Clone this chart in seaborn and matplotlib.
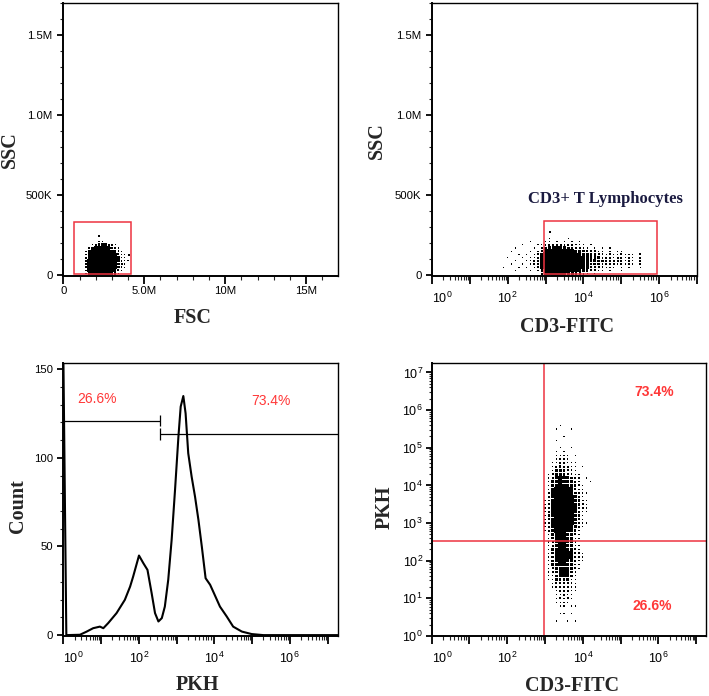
import numpy as np
import pandas as pd
import seaborn as sns
import matplotlib.pyplot as plt
from matplotlib.patches import Rectangle
from matplotlib.ticker import MultipleLocator, LogLocator, NullFormatter

sns.set_style("white")
plt.rcParams['font.family'] = ['Liberation Sans', 'DejaVu Sans']
plt.rcParams['mathtext.fontset'] = 'custom'
plt.rcParams['mathtext.rm'] = 'Liberation Sans'
plt.rcParams['axes.edgecolor'] = 'black'

RED = '#ee3340'
PCT_RED = '#ff3838'
SERIF = ['Liberation Serif', 'DejaVu Serif']

# ---------------- data ----------------
# density grids: digit = how dark the dot cloud is in that cell (0..9), rows top -> bottom

# panel 1: FSC (M) x SSC (K), cells 0.2M x 20K
fsc_x0, fsc_dx = 1.4e6, 0.2e6
ssc1_top, ssc1_dy = 230e3, 20e3
fsc_ssc_rows = [
    "00000 00000 0000",
    "00001 10000 0000",
    "00135 65321 0000",
    "02699 99863 1000",
    "15999 99985 2100",
    "27999 99986 3110",
    "38999 99986 4210",
    "39999 99987 5211",
    "39999 99987 5310",
    "39999 99986 4210",
    "29999 99985 3100",
    "18999 99974 2000",
]
p1_out_fsc = [2.2e6, 4.05e6]
p1_out_ssc = [245e3, 127e3]
fsc_gate = (0.66e6, 4.2e6)
ssc_gate1 = (5e3, 330e3)

# panel 2: CD3-FITC (log decades) x SSC, cells 0.1 decade x 20K
cd3_x0, cd3_dx = 1.8, 0.1
ssc2_top, ssc2_dy = 250e3, 20e3
cd3_ssc_rows = [
    "00000 00000 00000 00000 00000 00000 00000 0000",
    "00000 00000 00010 00010 00000 00000 00000 0000",
    "00000 00010 00110 10101 01000 00000 00000 0000",
    "00000 01000 11223 32222 11101 00000 00000 0000",
    "00001 00001 02455 66543 32210 10101 00000 0000",
    "00010 00010 13789 99876 54332 21101 01100 0000",
    "00000 10101 24999 99998 76543 32212 11211 1020",
    "00100 01011 25999 99999 87654 33222 12212 1020",
    "00001 00112 36999 99999 98764 43322 22212 1020",
    "00010 01012 36999 99999 98764 43222 21211 1020",
    "01000 10101 25999 99999 87653 32211 10101 0010",
    "00001 00010 13899 99998 65432 21101 00100 0000",
    "00000 00000 02579 99865 43210 10000 00000 0000",
]
p2_out_dec = [3.11]
p2_out_ssc = [272e3]
cd3_gate = (2.97, 5.93)
ssc_gate2 = (8e3, 339e3)
lymph_label_pos = (4.585, 474e3)

# panel 3: PKH histogram (log decade, count)
pkh_dec = [0.00, 0.08, 0.44, 0.62, 0.79, 0.97, 1.06, 1.19, 1.41, 1.63, 1.77, 1.85,
           2.005, 2.12, 2.23, 2.34, 2.43, 2.52, 2.61, 2.69, 2.78, 2.87, 2.96, 3.05,
           3.11, 3.18, 3.24, 3.31, 3.40, 3.49, 3.58, 3.67, 3.77, 3.89, 3.99, 4.15,
           4.33, 4.50, 4.73, 4.99, 5.30, 7.27]
pkh_count = [160, 0, 0.2, 2.0, 3.9, 4.8, 3.9, 6.8, 12.4, 19.9, 27.4, 33.0,
             44.9, 40.6, 36.8, 23.7, 12.4, 7.7, 9.6, 16.1, 31.2, 53.7, 81.9, 112.0,
             128.9, 134.9, 125.1, 102.6, 89.4, 78.1, 65.0, 49.9, 32.1, 28.4, 23.7, 16.1,
             10.5, 4.8, 2.0, 0.6, 0, 0]
pkh_split = 2.56
gate_low_count, gate_high_count = 121.0, 113.3
hist_pct = ["26.6%", "73.4%"]
hist_pct_pos = [(0.90, 133.0), (5.49, 132.2)]

# panel 4: CD3-FITC x PKH, cells 0.1 x 0.1 decade
q_x0, q_dx = 3.0, 0.1
q_top, q_dy = 5.7, 0.1
cd3_pkh_rows = [
    "00000 00000 00000", "00001 00000 00000", "00010 00100 00000", "00000 00000 00000",
    "00000 10000 00000", "00010 00000 00000", "00000 00000 00000", "00001 00100 00000",
    "00010 10000 00000", "00011 11010 00000", "00012 11000 00000", "00112 21110 00000",
    "00123 22110 10000", "00134 32210 00000", "01245 43211 00000", "01256 54321 01000",
    "01367 65421 00100", "01478 76532 10000", "01489 87631 10000", "02599 98742 11000",
    "02699 99853 10000", "12699 99954 21000", "13799 99964 21000", "13799 99963 21000",
    "13799 99953 11000", "13799 99953 10000", "13699 99942 10000", "13699 99842 11000",
    "12599 98742 10000", "12489 97631 00000", "01378 86521 00000", "01367 75411 00000",
    "01256 65410 00000", "01257 76511 00000", "01367 76521 00000", "01367 87632 10000",
    "01367 87631 10000", "01357 76521 10000", "01356 76521 00000", "01245 65421 00000",
    "01245 65310 00000", "01134 54310 00000", "01133 44210 00000", "00123 33210 00000",
    "00122 32110 00000", "00012 22110 00000", "00011 21100 00000", "00012 12100 00000",
    "00011 11000 00000", "00001 10110 00000", "00000 00000 00000", "00001 10100 00000",
    "00000 00000 00000", "00010 01010 00000", "00000 00000 00000", "00000 00000 00000",
    "00000 00000 00000", "00003 33333 00000",
]
quad_x, quad_y = 2.98, 2.53
quad_pct = ["73.4%", "26.6%"]
quad_pct_pos = [(5.89, 6.49), (5.84, 0.80)]


def grid_points(rows, x0, dx, y_top, dy):
    recs = []
    for i, row in enumerate(rows):
        row = row.replace(' ', '')
        for j, ch in enumerate(row):
            if ch != '0':
                recs.append((x0 + j * dx, y_top - i * dy, int(ch)))
    return pd.DataFrame(recs, columns=['x', 'y', 'd'])


def cloud(ax, df, smax):
    sns.scatterplot(data=df, x='x', y='y', size='d', sizes=(0.8, smax), size_norm=(1, 9),
                    marker='s', color='black', linewidth=0, legend=False, ax=ax)


def style_axes(ax):
    for side in ['left', 'bottom']:
        ax.spines[side].set_linewidth(1.4)
    for side in ['top', 'right']:
        ax.spines[side].set_linewidth(1.0)
    ax.tick_params(axis='x', which='major', direction='out', length=5.8, width=1.3,
                   labelsize=8.2, pad=1.5, bottom=True, colors='black')
    ax.tick_params(axis='x', which='minor', direction='out', length=3.2, width=0.8, bottom=True)
    ax.tick_params(axis='y', which='major', direction='out', length=4.3, width=1.3,
                   labelsize=8.2, pad=3, left=True, colors='black')
    ax.tick_params(axis='y', which='minor', direction='out', length=2.4, width=0.8, left=True)


def log_axis(axis, top_dec, every):
    majors = [10.0 ** k for k in range(0, top_dec + 1)]
    labels = [r'$\mathregular{10^{%d}}$' % k if k % every == 0 else '' for k in range(0, top_dec + 1)]
    axis.set_ticks(majors, labels, fontsize=9)
    axis.set_minor_locator(LogLocator(base=10, subs=np.arange(2, 10), numticks=60))
    axis.set_minor_formatter(NullFormatter())


def ssc_axis(ax):
    ax.set_ylim(-5e3, 1.70e6)
    ax.set_yticks([0, 5e5, 1e6, 1.5e6], ['0', '500K', '1.0M', '1.5M'])
    ax.yaxis.set_minor_locator(MultipleLocator(1e5))


def labels(ax, xl, yl, xpos, ypos):
    ax.set_xlabel(xl, fontfamily=SERIF, fontweight='bold', fontsize=14.5, va='center')
    ax.set_ylabel(yl, fontfamily=SERIF, fontweight='bold', fontsize=14.5, va='center')
    ax.xaxis.set_label_coords(*xpos)
    ax.yaxis.set_label_coords(*ypos)


fig = plt.figure(figsize=(7.09, 6.96), dpi=100)
ax1 = fig.add_axes([0.0884, 0.6034, 0.3879, 0.3927])
ax2 = fig.add_axes([0.6089, 0.6034, 0.3746, 0.3927])
ax3 = fig.add_axes([0.0893, 0.0862, 0.3870, 0.3927])
ax4 = fig.add_axes([0.6089, 0.0862, 0.3869, 0.3927])

# ---- panel 1: FSC vs SSC ----
df1 = grid_points(fsc_ssc_rows, fsc_x0, fsc_dx, ssc1_top, ssc1_dy)
cloud(ax1, df1, 6.5)
ax1.scatter(p1_out_fsc, p1_out_ssc, s=1.2, color='black', linewidths=0, marker='s')
ax1.add_patch(Rectangle((fsc_gate[0], ssc_gate1[0]), fsc_gate[1] - fsc_gate[0],
                        ssc_gate1[1] - ssc_gate1[0], fill=False, edgecolor=RED, lw=1.1))
ax1.set_xlim(-0.04e6, 16.95e6)
ax1.set_xticks([0, 5e6, 10e6, 15e6], ['0', '5.0M', '10M', '15M'])
ax1.xaxis.set_minor_locator(MultipleLocator(1e6))
ssc_axis(ax1)
style_axes(ax1)
labels(ax1, 'FSC', 'SSC', (0.472, -0.152), (-0.193, 0.461))

# ---- panel 2: CD3-FITC vs SSC ----
ax2.set_xscale('log')
df2 = grid_points(cd3_ssc_rows, cd3_x0, cd3_dx, ssc2_top, ssc2_dy)
df2['x'] = 10 ** df2['x']
cloud(ax2, df2, 9)
ax2.scatter([10 ** v for v in p2_out_dec], p2_out_ssc, s=1.2, color='black', linewidths=0, marker='s')
ax2.add_patch(Rectangle((10 ** cd3_gate[0], ssc_gate2[0]), 10 ** cd3_gate[1] - 10 ** cd3_gate[0],
                        ssc_gate2[1] - ssc_gate2[0], fill=False, edgecolor=RED, lw=1.1))
ax2.text(10 ** lymph_label_pos[0], lymph_label_pos[1], 'CD3+ T Lymphocytes', ha='center', va='center',
         fontfamily=SERIF, fontweight='bold', fontsize=12, color='#1a1a40')
ax2.set_xlim(1, 10 ** 7.0)
log_axis(ax2.xaxis, 7, 2)
ssc_axis(ax2)
style_axes(ax2)
ax2.tick_params(axis='x', which='major', pad=5, labelsize=9)
labels(ax2, 'CD3-FITC', 'SSC', (0.511, -0.186), (-0.207, 0.494))

# ---- panel 3: PKH histogram ----
ax3.set_xscale('log')
hist = pd.DataFrame({'pkh': [10 ** v for v in pkh_dec], 'count': pkh_count})
sns.lineplot(data=hist, x='pkh', y='count', sort=False, color='black', lw=1.5, ax=ax3)
split = 10 ** pkh_split
ax3.hlines(gate_low_count, 1, split, color='black', lw=0.9)
ax3.vlines(split, gate_low_count - 3.3, gate_low_count + 3.3, color='black', lw=0.9)
ax3.hlines(gate_high_count, split, 10 ** 7.3, color='black', lw=0.9)
ax3.vlines(split, gate_high_count - 3.3, gate_high_count + 3.3, color='black', lw=0.9)
for txt, (xd, yc) in zip(hist_pct, hist_pct_pos):
    ax3.text(10 ** xd, yc, txt, ha='center', va='center', fontsize=10, color=PCT_RED)
ax3.set_xlim(1, 10 ** 7.27)
ax3.set_ylim(-0.5, 153.7)
log_axis(ax3.xaxis, 7, 2)
ax3.set_yticks([0, 50, 100, 150], ['0', '50', '100', '150'])
ax3.yaxis.set_minor_locator(MultipleLocator(10))
style_axes(ax3)
ax3.tick_params(axis='x', which='major', pad=5, labelsize=9)
labels(ax3, 'PKH', 'Count', (0.489, -0.180), (-0.164, 0.476))

# ---- panel 4: CD3-FITC vs PKH ----
ax4.set_xscale('log')
ax4.set_yscale('log')
df4 = grid_points(cd3_pkh_rows, q_x0, q_dx, q_top, q_dy)
df4['x'] = 10 ** df4['x']
df4['y'] = 10 ** df4['y']
cloud(ax4, df4, 9.5)
ax4.axvline(10 ** quad_x, color=RED, lw=1.1)
ax4.axhline(10 ** quad_y, color=RED, lw=1.1)
for txt, (xd, yd) in zip(quad_pct, quad_pct_pos):
    ax4.text(10 ** xd, 10 ** yd, txt, ha='center', va='center', fontsize=10,
             fontweight='bold', color=PCT_RED)
ax4.set_xlim(1, 10 ** 7.26)
ax4.set_ylim(1, 10 ** 7.26)
log_axis(ax4.xaxis, 7, 2)
log_axis(ax4.yaxis, 7, 1)
style_axes(ax4)
ax4.tick_params(axis='x', which='major', pad=5, labelsize=9)
ax4.tick_params(axis='y', which='major', pad=2, labelsize=9)
labels(ax4, 'CD3-FITC', 'PKH', (0.510, -0.184), (-0.170, 0.470))

for ax in (ax2, ax3, ax4):
    ax.get_xticklabels()[0].set_ha('left')

fig.savefig('out.png', dpi=100)
